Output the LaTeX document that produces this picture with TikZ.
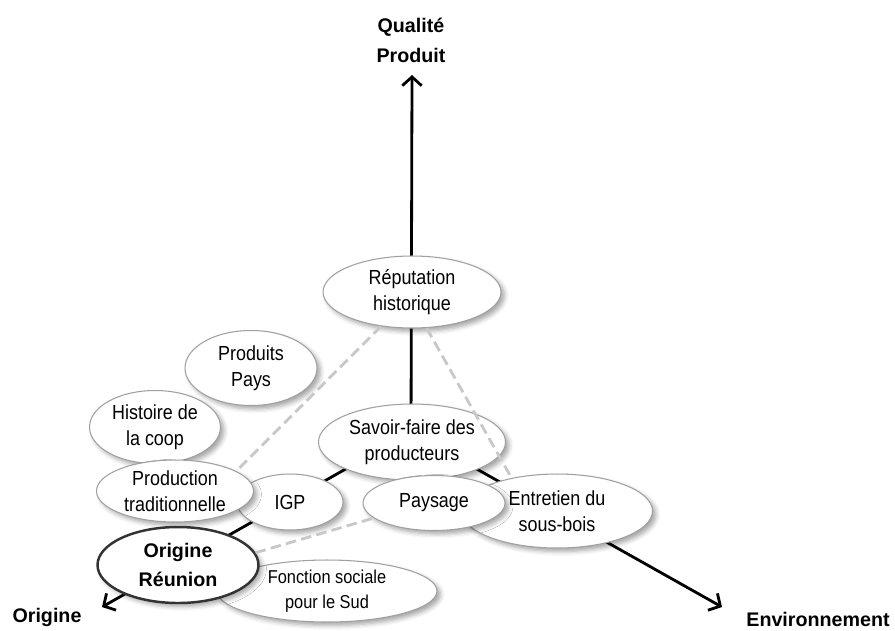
\documentclass[tikz,border=0pt]{standalone}
\usepackage{fontspec}
\setmainfont{Liberation Sans}[FakeStretch=0.88]
\newfontfamily\axefont{Liberation Sans}
\usetikzlibrary{arrows.meta, shapes.geometric, shadows.blur}
\definecolor{BordGris}{RGB}{160, 160, 160}
\definecolor{LienGris}{RGB}{200, 200, 200}

\tikzset{
  bulle/.style={ellipse, draw=BordGris, fill=white, line width=0.6pt, inner sep=0pt, align=center,
    font=\fontsize{11.6}{14.8}\selectfont,
    blur shadow={shadow xshift=2pt, shadow yshift=-2pt, shadow blur radius=2.5pt, shadow opacity=35}},
  axe/.style={line width=1.6pt, -{Straight Barb[length=5pt, width=11pt]}},
  lien/.style={draw=LienGris, line width=1.6pt, dash pattern=on 6pt off 3pt},
  titre/.style={font=\axefont\bfseries\fontsize{11.2}{17}\selectfont, align=center}
}

\begin{document}
\begin{tikzpicture}[x=0.02cm, y=-0.02cm]
\useasboundingbox (0,0) rectangle (895,630);
\coordinate (o) at (411,432);
\coordinate (tq) at (412,75);
\coordinate (to) at (102,607);
\coordinate (te) at (722,607);
\draw[axe] (o) -- (tq);
\draw[axe] (o) -- (to);
\draw[axe] (o) -- (te);
\node[titre] (qualite) at (411,40) {Qualité\\Produit};
\node[titre] (origlab) at (47,617) {Origine};
\node[titre] (envlab) at (818,619) {Environnement};
% bulles, de l'arriere vers l'avant
\foreach \n/\x/\y/\w/\h/\t in {rep/412/292/3.56/1.44/{Réputation\\historique},
    savoir/412/442/3.74/1.52/{Savoir-faire des\\producteurs},
    entretien/557/511/3.82/1.48/{Entretien du\\sous-bois},
    paysage/434/503/2.84/1.10/{Paysage},
    produits/251/368/2.64/1.50/{Produits\\Pays},
    histoire/155/427/2.62/1.46/{Histoire de\\la coop},
    igp/290/502/2.12/1.12/{IGP},
    prod/175/491/3.14/1.24/{Production\\traditionnelle}} {
  \node[bulle, minimum width=\w cm, minimum height=\h cm] (\n) at (\x,\y) {\t};
}
\node[bulle, minimum width=4.40cm, minimum height=1.24cm, font=\fontsize{10.6}{14}\selectfont]
  (fonction) at (327,591) {Fonction sociale\\pour le Sud};
\node[bulle, draw=black!80, line width=1.4pt, minimum width=3.22cm, minimum height=1.52cm,
  font=\axefont\bfseries\fontsize{11.2}{16}\selectfont] (origine) at (178,565) {Origine\\Réunion};
\draw[lien] (rep.228) -- (prod.18);
\draw[lien] (rep.292) -- (entretien.144);
\draw[lien] (origine.9) -- (paysage.194);
\end{tikzpicture}
\end{document}
